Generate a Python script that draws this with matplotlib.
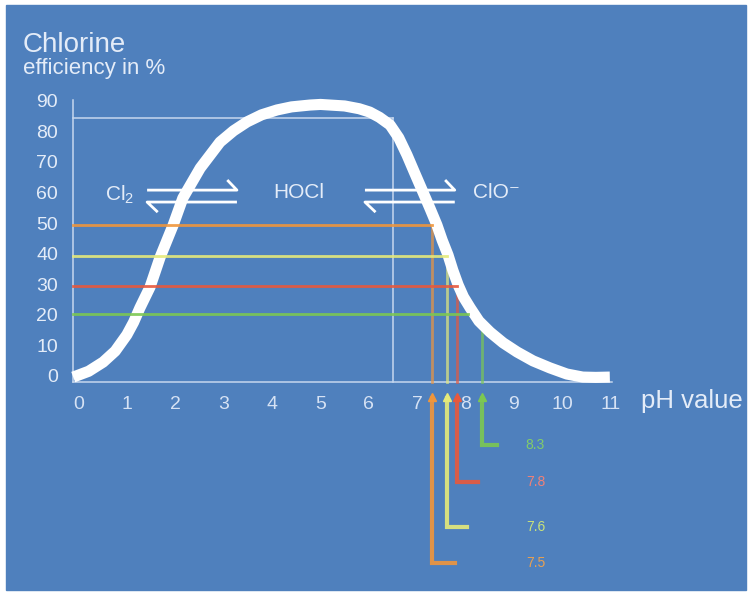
import matplotlib
matplotlib.use("Agg")
import matplotlib.pyplot as plt
from matplotlib.patches import Rectangle

plt.rcParams['font.family'] = ['Liberation Sans', 'DejaVu Sans']

# curve: pH value -> chlorine efficiency (%)
curve_ph = [-0.12, 0.20, 0.50, 0.75, 0.99, 1.13, 1.26, 1.47, 1.68, 1.95,
            2.15, 2.51, 2.92, 3.20, 3.48, 3.78, 4.10, 4.40, 4.78, 5.00,
            5.20, 5.50, 5.80, 6.02, 6.22, 6.44, 6.62, 6.79, 6.95, 7.12,
            7.27, 7.41, 7.52, 7.64, 7.74, 7.85, 7.96, 8.10, 8.28, 8.51,
            8.78, 9.07, 9.40, 9.75, 10.10, 10.43, 10.70, 10.99]
curve_pct = [0.3, 2.2, 5.2, 8.8, 14.1, 18.2, 22.9, 29.7, 39.5, 50.0,
             58.8, 68.6, 77.1, 80.8, 83.7, 86.0, 87.6, 88.6, 89.2, 89.4,
             89.2, 88.9, 88.0, 86.9, 85.2, 82.7, 78.5, 72.9, 67.0, 60.8,
             55.3, 50.0, 45.0, 40.2, 35.2, 30.4, 26.5, 22.9, 18.6, 15.0,
             11.5, 8.5, 5.6, 3.3, 1.3, 0.3, 0.2, 0.3]

# marked pH values
mark_labels = ['7.5', '7.6', '7.8', '8.3']
mark_ph = [7.31, 7.62, 7.83, 8.34]
mark_level = [50, 40, 30, 21]
mark_hline_end = [7.31, 7.62, 7.83, 8.06]
mark_vline_top = [50, 40, 30, 16]
mark_colors = ['#F0963C', '#E6EA7A', '#E8583C', '#7CC852']
label_colors = ['#E8A052', '#C8E27A', '#F08078', '#82CC6A']

y_ticks = [0, 10, 20, 30, 40, 50, 60, 70, 80, 90]
x_ticks = [0, 1, 2, 3, 4, 5, 6, 7, 8, 9, 10, 11]

# pixel mapping of the original picture
W, H = 748, 595
X0PX, XSCALE = 79, 48.3
Y0PX, YSCALE = 378, 3.06

BLUE = '#4F80BD'
TXT = '#E4ECF8'
AXC = '#C6D7EE'

fig = plt.figure(figsize=(W / 100, H / 100), dpi=100, facecolor='white')
ax = fig.add_axes([0, 0, 1, 1])
ax.set_xlim(-X0PX / XSCALE, (W - X0PX) / XSCALE)
ax.set_ylim((Y0PX - H) / YSCALE, Y0PX / YSCALE)
ax.axis('off')
ax.add_patch(Rectangle((6 / W, 5 / H), 740 / W, 585 / H,
                       transform=fig.transFigure, color=BLUE, zorder=0))

x_left, y_bottom = -0.12, -1.3

# axes lines
ax.plot([x_left, x_left], [y_bottom, 91], color=AXC, lw=1.1, zorder=1)
ax.plot([x_left, 11.03], [y_bottom, y_bottom], color=AXC, lw=1.1, zorder=1)

# reference lines at 85 % / pH 6.5
ax.plot([x_left, 6.5], [85, 85], color=AXC, lw=1.1, zorder=1)
ax.plot([6.5, 6.5], [y_bottom, 85], color=AXC, lw=1.1, zorder=1)

# the efficiency curve
ax.plot(curve_ph, curve_pct, color='white', lw=8, solid_capstyle='butt',
        solid_joinstyle='round', zorder=3)

# marker lines and arrows
elbow_y = [-60.5, -48.7, -34.0, -21.9]
elbow_x = [7.78, 8.03, 8.26, 8.65]
for i in range(len(mark_ph)):
    c = mark_colors[i]
    ax.plot([x_left, mark_hline_end[i]], [mark_level[i]] * 2, color=c,
            lw=2, alpha=0.9, zorder=4)
    ax.plot([mark_ph[i]] * 2, [y_bottom, mark_vline_top[i]], color=c,
            lw=2, alpha=0.7, zorder=2)
    ax.plot([mark_ph[i], mark_ph[i], elbow_x[i]], [-6.5, elbow_y[i], elbow_y[i]],
            color=c, lw=3, alpha=0.9, solid_joinstyle='miter', zorder=2)
    ax.plot(mark_ph[i], -6.2, marker='^', ms=6, color=c, mec=c, zorder=2)
    ax.text(9.45, elbow_y[i], mark_labels[i], color=label_colors[i],
            fontsize=10, ha='center', va='center')


# equilibrium double harpoons
def draw_eq(x1, x2):
    up, lo = 61.4, 57.5
    kw = dict(color='white', lw=2, solid_capstyle='butt', zorder=5)
    ax.plot([x1, x2, x2 - 0.2], [up, up, up + 3.3], **kw)
    ax.plot([x2, x1, x1 + 0.22], [lo, lo, lo - 3.3], **kw)


draw_eq(1.41, 3.27)
draw_eq(5.92, 7.78)

ax.text(0.85, 59.8, r'$\mathregular{Cl_2}$', color=TXT, fontsize=15,
        ha='center', va='center')
ax.text(4.55, 60.5, 'HOCl', color=TXT, fontsize=15, ha='center', va='center')
ax.text(8.65, 60.5, 'ClO⁻', color=TXT, fontsize=15, ha='center', va='center')

# titles
ax.text(-1.16, 106.5, 'Chlorine', color=TXT, fontsize=20, va='baseline')
ax.text(-1.16, 99.3, 'efficiency in %', color=TXT, fontsize=16, va='baseline')

# tick labels
for v in y_ticks:
    ax.text(-0.43, v, str(v), color=TXT, fontsize=14, ha='right', va='center')
for v in x_ticks:
    ax.text(v, -8.8, str(v), color='#D6E2F4', fontsize=14, ha='center',
            va='center')
ax.text(11.64, -7.6, 'pH value', color=TXT, fontsize=18.5, ha='left',
        va='center')

fig.savefig('out.png', dpi=100, facecolor='white')
